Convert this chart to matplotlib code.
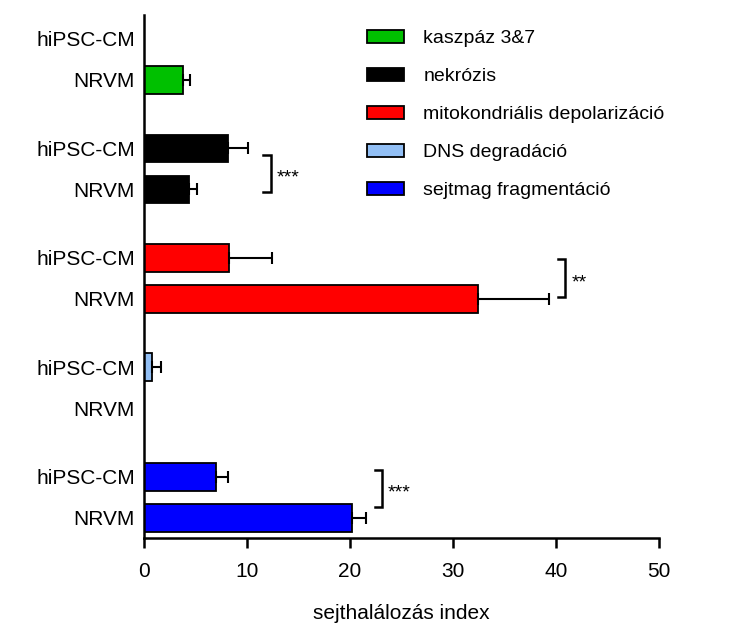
import numpy as np
import matplotlib
matplotlib.use("Agg")
import matplotlib.pyplot as plt
from matplotlib.patches import Patch

plt.rcParams["font.family"] = ["Liberation Sans", "DejaVu Sans"]

# sejthalálozás index, csoportonként (hiPSC-CM, NRVM)
CSOPORTOK = ["kaszpáz 3&7", "nekrózis", "mitokondriális depolarizáció",
             "DNS degradáció", "sejtmag fragmentáció"]
SEJTEK    = ["hiPSC-CM", "NRVM"]
ATLAG     = [[0.0, 3.75], [8.15, 4.4], [8.25, 32.4], [0.8, 0.0], [7.0, 20.2]]
SEM       = [[0.0, 0.7], [1.95, 0.7], [4.15, 6.9], [0.85, 0.0], [1.2, 1.4]]
SZINEK    = ["#00c000", "#000000", "#ff0000", "#92bff5", "#0000ff"]

# szignifikancia: (csoport, x, jelölés)
SZIGNIF   = [(1, 12.3, "***"), (2, 40.9, "**"), (4, 23.1, "***")]
KONZOL_Y  = {1: (0.15, 0.07), 2: (0.02, -0.05), 4: (-0.17, -0.27)}

GAP = 2.67
BAR_H = 0.68

fig = plt.figure(figsize=(7.31, 6.31), dpi=100)
ax = fig.add_axes([144/731, 1 - 538/631, (659 - 144)/731, (538 - 15)/631])

pos, labels = [], []
for g, (atl, sem, col) in enumerate(zip(ATLAG, SEM, SZINEK)):
    y = np.array([g * GAP, g * GAP + 1])
    ax.barh(y, atl, height=BAR_H, color=col, edgecolor="black", lw=1.3, zorder=2)
    for yi, a, s in zip(y, atl, sem):
        if s > 0:
            ax.errorbar(a, yi, xerr=[[0], [s]], fmt="none", ecolor="black",
                        elinewidth=1.5, capsize=4.5, capthick=1.5, zorder=3)
    pos += list(y)
    labels += SEJTEK

for g, x, jel in SZIGNIF:
    dt, db = KONZOL_Y[g]
    y1, y2 = g * GAP + dt, g * GAP + 1 + db
    ax.plot([x - 0.7, x, x, x - 0.7], [y1, y1, y2, y2], color="black", lw=1.8,
            solid_joinstyle="miter", clip_on=False)
    ax.text(x + 0.6, (y1 + y2) / 2 + 0.12, jel, fontsize=14, ha="left", va="center")

ax.set_xlim(0, 50)
ax.set_ylim(4 * GAP + 1 + 0.49, -0.585)
ax.set_xticks([0, 10, 20, 30, 40, 50])
ax.set_yticks(pos)
ax.set_yticklabels(labels)
ax.tick_params(axis="y", length=0, pad=6.5, labelsize=15)
ax.tick_params(axis="x", length=7, width=1.8, direction="out", pad=10, labelsize=15)
for s in ["top", "right"]:
    ax.spines[s].set_visible(False)
for s in ["left", "bottom"]:
    ax.spines[s].set_linewidth(1.8)
ax.set_xlabel("sejthalálozás index", fontsize=15, labelpad=17)

handles = [Patch(facecolor=c, edgecolor="black", lw=1.3) for c in SZINEK]
fig.legend(handles, CSOPORTOK, loc="upper left", bbox_to_anchor=(367/731, 1 - 30/631),
           frameon=False, fontsize=14, borderpad=0, borderaxespad=0,
           handlelength=1.9, handleheight=0.68, handletextpad=1.0, labelspacing=1.05)

fig.savefig("out.png", dpi=100)
